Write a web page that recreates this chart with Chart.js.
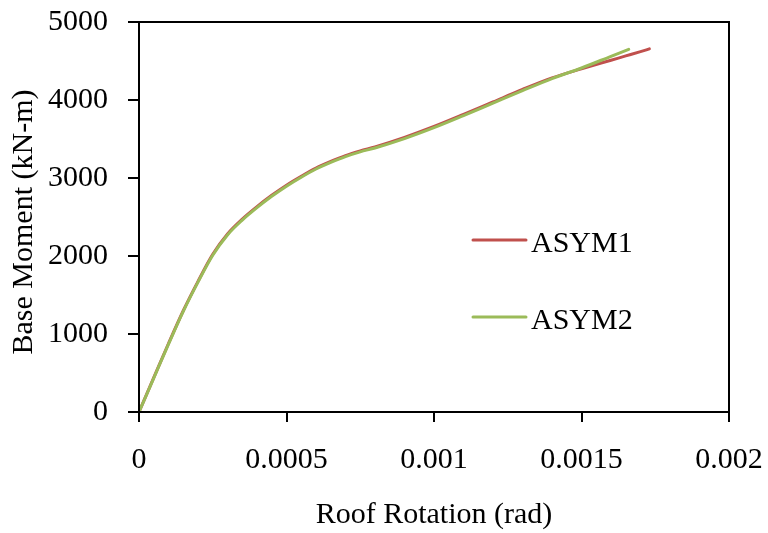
<!DOCTYPE html>
<html>
<head>
<meta charset="utf-8">
<script src="https://cdn.jsdelivr.net/npm/chart.js@4/dist/chart.umd.min.js"></script>
<style>
  html, body { margin: 0; padding: 0; background: #ffffff; }
  #wrap { width: 768px; height: 533px; }
</style>
</head>
<body>
<div id="wrap"><canvas id="c" width="768" height="533"></canvas></div>
<script>
// Roof rotation (rad) and base moment (kN-m) for each model
const rotationAsym1 = [0, 0.00005, 0.0001, 0.00015, 0.0002, 0.00025, 0.0003, 0.00035, 0.0004, 0.00045,
  0.0005, 0.00055, 0.0006, 0.00065, 0.0007, 0.00075, 0.0008, 0.0009, 0.001, 0.0011,
  0.0012, 0.0013, 0.0014, 0.0015, 0.0016, 0.00165, 0.0017, 0.00173];
const momentAsym1 = [0, 440, 878, 1298, 1675, 2022, 2283, 2473, 2633, 2778,
  2908, 3022, 3127, 3212, 3287, 3347, 3398, 3520, 3660, 3815,
  3975, 4135, 4283, 4400, 4510, 4565, 4620, 4655];

const rotationAsym2 = [0, 0.00005, 0.0001, 0.00015, 0.0002, 0.00025, 0.0003, 0.00035, 0.0004, 0.00045,
  0.0005, 0.00055, 0.0006, 0.00065, 0.0007, 0.00075, 0.0008, 0.0009, 0.001, 0.0011,
  0.0012, 0.0013, 0.0014, 0.0015, 0.0016, 0.00166];
const momentAsym2 = [0, 435, 870, 1290, 1665, 2010, 2270, 2460, 2620, 2765,
  2895, 3010, 3115, 3200, 3275, 3335, 3385, 3505, 3645, 3800,
  3960, 4120, 4275, 4410, 4560, 4650];

const seriesNames = ['ASYM1', 'ASYM2'];
const seriesColors = ['#C0504D', '#9BBB59'];

const xTickValues = [0, 0.0005, 0.001, 0.0015, 0.002];
const xTickLabels = ['0', '0.0005', '0.001', '0.0015', '0.002'];
const yTickValues = [0, 1000, 2000, 3000, 4000, 5000];
const yTickLabels = ['0', '1000', '2000', '3000', '4000', '5000'];

const xTitle = 'Roof Rotation (rad)';
const yTitle = 'Base Moment (kN-m)';

const FONT = "'Liberation Serif', 'Times New Roman', serif";

function toPoints(xs, ys) {
  return xs.map((x, i) => ({ x: x, y: ys[i] }));
}

// Closed frame around the plotting area
const frame = {
  id: 'frame',
  afterDatasetsDraw(chart) {
    const { ctx, chartArea: a } = chart;
    ctx.save();
    ctx.strokeStyle = '#000000';
    ctx.lineWidth = 2;
    ctx.strokeRect(a.left, a.top, a.right - a.left, a.bottom - a.top);
    ctx.restore();
  }
};

// Nudge the vertical axis title a little below the axis centre
const titleNudge = {
  id: 'titleNudge',
  afterLayout(chart) {
    const s = chart.scales.y;
    if (s && !s.$nudged) {
      const draw = s.drawTitle.bind(s);
      s.drawTitle = function () {
        this.ctx.save();
        this.ctx.translate(0, 5);
        draw();
        this.ctx.restore();
      };
      s.$nudged = true;
    }
  }
};

// Legend placed inside the plotting area, right of centre
const insideLegend = {
  id: 'insideLegend',
  afterDraw(chart) {
    const { ctx } = chart;
    const rows = [
      { lineY: 240, textY: 252 },
      { lineY: 317, textY: 329 }
    ];
    ctx.save();
    chart.data.datasets.forEach((ds, i) => {
      const r = rows[i];
      ctx.strokeStyle = ds.borderColor;
      ctx.lineWidth = 3;
      ctx.lineCap = 'round';
      ctx.beginPath();
      ctx.moveTo(473, r.lineY);
      ctx.lineTo(526, r.lineY);
      ctx.stroke();
      ctx.fillStyle = '#000000';
      ctx.font = '30px ' + FONT;
      ctx.textAlign = 'left';
      ctx.textBaseline = 'alphabetic';
      ctx.fillText(ds.label, 531, r.textY);
    });
    ctx.restore();
  }
};

new Chart(document.getElementById('c'), {
  type: 'scatter',
  data: {
    datasets: [
      {
        label: seriesNames[0],
        data: toPoints(rotationAsym1, momentAsym1),
        borderColor: seriesColors[0],
        backgroundColor: seriesColors[0],
        order: 1
      },
      {
        label: seriesNames[1],
        data: toPoints(rotationAsym2, momentAsym2),
        borderColor: seriesColors[1],
        backgroundColor: seriesColors[1],
        order: 0
      }
    ]
  },
  options: {
    responsive: false,
    animation: false,
    devicePixelRatio: 1,
    layout: { padding: { top: 22, right: 39, left: 0, bottom: 0 } },
    datasets: {
      scatter: {
        showLine: true,
        pointRadius: 0,
        pointHoverRadius: 0,
        borderWidth: 3,
        cubicInterpolationMode: 'monotone',
        borderCapStyle: 'round',
        borderJoinStyle: 'round',
        fill: false
      }
    },
    plugins: {
      legend: { display: false },
      tooltip: { enabled: false }
    },
    scales: {
      x: {
        type: 'linear',
        min: 0,
        max: 0.002,
        afterBuildTicks(scale) { scale.ticks = xTickValues.map(v => ({ value: v })); },
        afterFit(scale) { scale.height = 121; scale.paddingLeft = 0; scale.paddingRight = 0; },
        ticks: {
          color: '#000000',
          font: { family: FONT, size: 30 },
          padding: 20,
          maxRotation: 0,
          autoSkip: false,
          callback: (v, i) => xTickLabels[i]
        },
        grid: { drawOnChartArea: false, drawTicks: true, tickLength: 10, color: '#000000', lineWidth: 2 },
        border: { display: true, color: '#000000', width: 2 },
        title: {
          display: true,
          text: xTitle,
          color: '#000000',
          font: { family: FONT, size: 30, lineHeight: 1.2 },
          padding: { top: 0, bottom: 0 }
        }
      },
      y: {
        type: 'linear',
        min: 0,
        max: 5000,
        afterBuildTicks(scale) { scale.ticks = yTickValues.map(v => ({ value: v })); },
        afterFit(scale) { scale.width = 139; scale.paddingTop = 0; scale.paddingBottom = 0; },
        ticks: {
          color: '#000000',
          font: { family: FONT, size: 30 },
          padding: 20,
          autoSkip: false,
          callback: (v, i) => yTickLabels[i]
        },
        grid: { drawOnChartArea: false, drawTicks: true, tickLength: 11, color: '#000000', lineWidth: 2 },
        border: { display: true, color: '#000000', width: 2 },
        title: {
          display: true,
          text: yTitle,
          color: '#000000',
          font: { family: FONT, size: 30, lineHeight: 1.2 },
          padding: { top: 6, bottom: 0 }
        }
      }
    }
  },
  plugins: [frame, titleNudge, insideLegend]
});
</script>
</body>
</html>
